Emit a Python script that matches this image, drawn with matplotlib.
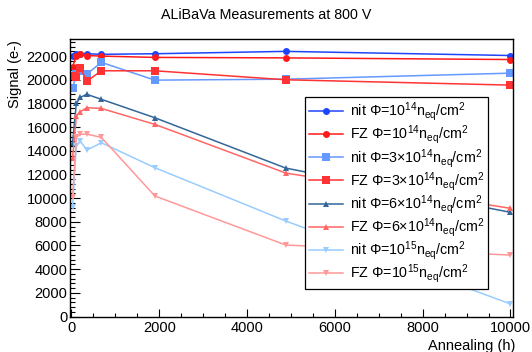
import matplotlib
matplotlib.use("Agg")
import matplotlib.pyplot as plt
from matplotlib.ticker import MultipleLocator

plt.rcParams['font.family'] = ['Liberation Sans', 'DejaVu Sans']
plt.rcParams['mathtext.fontset'] = 'custom'
plt.rcParams['mathtext.rm'] = 'Liberation Sans'
plt.rcParams['mathtext.it'] = 'Liberation Sans'

# annealing times (h)
times = [25, 110, 200, 350, 680, 1900, 4880, 10000]

nit_1e14 = [22050, 22150, 22200, 22200, 22150, 22200, 22400, 22050]
fz_1e14 = [21100, 22000, 22150, 22050, 22000, 21890, 21850, 21710]
nit_3e14 = [19270, 20480, 20700, 20480, 21470, 19970, 20050, 20560]
fz_3e14 = [20300, 20200, 21010, 19880, 20760, 20760, 20000, 19550]
nit_6e14 = [14680, 18010, 18510, 18770, 18350, 16790, 12540, 8800]
fz_6e14 = [13410, 16930, 17300, 17640, 17580, 16230, 12120, 9140]
nit_1e15 = [9270, 14430, 14820, 14060, 14680, 12570, 8070, 1060]
fz_1e15 = [10120, 15130, 15390, 15410, 15130, 10180, 6040, 5190]

labels = [
    r'nit Φ=10$^{14}$n$_{eq}$/cm$^{2}$',
    r'FZ Φ=10$^{14}$n$_{eq}$/cm$^{2}$',
    r'nit Φ=3×10$^{14}$n$_{eq}$/cm$^{2}$',
    r'FZ Φ=3×10$^{14}$n$_{eq}$/cm$^{2}$',
    r'nit Φ=6×10$^{14}$n$_{eq}$/cm$^{2}$',
    r'FZ Φ=6×10$^{14}$n$_{eq}$/cm$^{2}$',
    r'nit Φ=10$^{15}$n$_{eq}$/cm$^{2}$',
    r'FZ Φ=10$^{15}$n$_{eq}$/cm$^{2}$',
]
series = [nit_1e14, fz_1e14, nit_3e14, fz_3e14, nit_6e14, fz_6e14, nit_1e15, fz_1e15]
colors = ['#1f45fc', '#ff1a1a', '#6699ff', '#ff3333', '#336699', '#ff6666', '#99ccff', '#ff9999']
markers = ['o', 'o', 's', 's', '^', '^', 'v', 'v']
msizes = [5, 5, 5.5, 5.5, 4.5, 4.5, 4.5, 4.5]

fig = plt.figure(figsize=(5.32, 3.52), dpi=100)
ax = fig.add_axes([70.3/532, 1-316.5/352, (512.5-70.3)/532, (316.5-39.3)/352])

for y, c, m, ms, lab in zip(series, colors, markers, msizes, labels):
    ax.plot(times, y, color=c, marker=m, markersize=ms, lw=1.1, label=lab,
            markeredgewidth=0)

ax.set_xlim(-27, 10046)
ax.set_ylim(0, 23420)
ax.xaxis.set_major_locator(MultipleLocator(2000))
ax.xaxis.set_minor_locator(MultipleLocator(500))
ax.yaxis.set_major_locator(MultipleLocator(2000))
ax.yaxis.set_minor_locator(MultipleLocator(400))
ax.tick_params(axis='both', which='both', direction='in', labelsize=10.5,
               top=False, right=False)
ax.tick_params(axis='y', which='major', length=7.5, width=0.8, pad=2)
ax.tick_params(axis='y', which='minor', length=3.8, width=0.8)
ax.tick_params(axis='x', which='major', length=6, width=0.8, pad=3)
ax.tick_params(axis='x', which='minor', length=3, width=0.8)
for s in ax.spines.values():
    s.set_linewidth(1.0)
    s.set_color('black')

leg = ax.legend(loc='upper left', bbox_to_anchor=(305/532, 1-96.7/352),
                bbox_transform=fig.transFigure, fontsize=10.3, frameon=True,
                fancybox=False, edgecolor='black', framealpha=1,
                handlelength=2.4, handletextpad=0.5, labelspacing=0.02,
                borderpad=0.25, borderaxespad=0)
leg.get_frame().set_linewidth(0.9)

fig.text(0.5, 1-14.7/352, 'ALiBaVa Measurements at 800 V', ha='center',
         va='center', fontsize=10.3)
fig.text(14.5/532, 1-40/352, 'Signal (e-)', rotation=90, ha='center',
         va='top', fontsize=10.5)
fig.text(515/532, 1-346/352, 'Annealing (h)', ha='right', va='center',
         fontsize=10.5)

fig.savefig('out.png', dpi=100)
